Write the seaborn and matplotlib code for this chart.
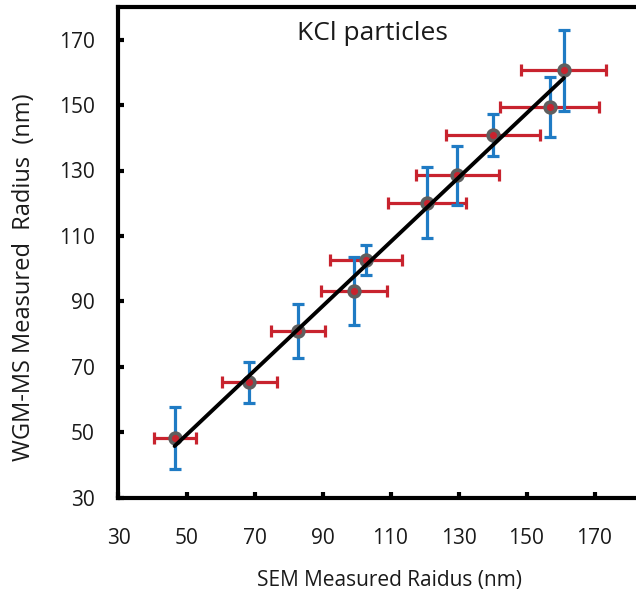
import numpy as np
import pandas as pd
import matplotlib
matplotlib.use("Agg")
import matplotlib.pyplot as plt
import seaborn as sns

# SEM vs WGM-MS radius measurements of KCl particles (nm)
sem_radius = [46.5, 68.4, 82.8, 99.3, 102.9, 120.8, 129.7, 140.2, 156.8, 161.0]
wgm_radius = [48.2, 65.2, 80.9, 93.1, 102.7, 120.2, 128.6, 140.9, 149.3, 160.6]
sem_err = [6.2, 8.1, 8.0, 9.7, 10.6, 11.5, 12.2, 13.8, 14.5, 12.5]
wgm_err = [9.5, 6.2, 8.3, 10.4, 4.6, 10.9, 9.0, 6.5, 9.2, 12.4]

x_ticks = [30, 50, 70, 90, 110, 130, 150, 170]
y_ticks = [30, 50, 70, 90, 110, 130, 150, 170]

df = pd.DataFrame({"sem": sem_radius, "wgm": wgm_radius,
                   "sem_err": sem_err, "wgm_err": wgm_err})

sns.set_style("white")
plt.rcParams["font.family"] = ["Open Sans", "DejaVu Sans"]

W, H = 636, 597
fig = plt.figure(figsize=(W / 100, H / 100), dpi=100)
left, right, top, bottom = 118.5, 640, 7, 497.5
ax = fig.add_axes([left / W, (H - bottom) / H, (right - left) / W, (bottom - top) / H])

red = "#c8232e"
blue = "#1f7bc4"

# horizontal (SEM) error bars
ax.errorbar(df["sem"], df["wgm"], xerr=df["sem_err"], fmt="none",
            ecolor=red, elinewidth=2.3, capsize=4.3, capthick=2.3, zorder=2)
# vertical (WGM-MS) error bars
ax.errorbar(df["sem"], df["wgm"], yerr=df["wgm_err"], fmt="none",
            ecolor=blue, elinewidth=2.3, capsize=4.3, capthick=2.3, zorder=3)

# data points: red centre with grey ring
sns.scatterplot(data=df, x="sem", y="wgm", ax=ax, s=60, color=red,
                edgecolor="#5f5f5f", linewidth=2.6, zorder=4, legend=False)

# linear fit across the measured range
sns.regplot(data=df, x="sem", y="wgm", ax=ax, scatter=False, ci=None,
            truncate=True, line_kws={"color": "black", "lw": 2.8, "zorder": 5})

ax.set_xlim(30, 30 + (right - left) / 3.4)
ax.set_ylim(30, 30 + (bottom - top) / 3.27)
ax.set_xticks(x_ticks)
ax.set_yticks(y_ticks)
ax.set_xticklabels([str(v) for v in x_ticks])
ax.set_yticklabels([str(v) for v in y_ticks])

for s in ["left", "bottom", "top"]:
    ax.spines[s].set_visible(True)
    ax.spines[s].set_color("black")
    ax.spines[s].set_linewidth(3.0)
ax.spines["right"].set_visible(False)

ax.tick_params(axis="x", direction="in", length=4, width=3, color="black",
               pad=22, labelsize=15, labelcolor="#1a1a1a", bottom=True)
ax.tick_params(axis="y", direction="in", length=4, width=3, color="black",
               pad=17, labelsize=15, labelcolor="#1a1a1a", left=True)

ax.set_xlabel("SEM Measured Raidus (nm)", fontsize=15, color="#1a1a1a")
ax.xaxis.set_label_coords(0.52, -0.147)
ax.set_ylabel("WGM-MS Measured  Radius  (nm)", fontsize=17, color="#1a1a1a")
ax.yaxis.set_label_coords(-0.158, 0.45)

ax.text(0.487, 0.945, "KCl particles", transform=ax.transAxes, ha="center",
        va="center", fontsize=19, color="#1a1a1a")

fig.savefig("out.png", dpi=100)
